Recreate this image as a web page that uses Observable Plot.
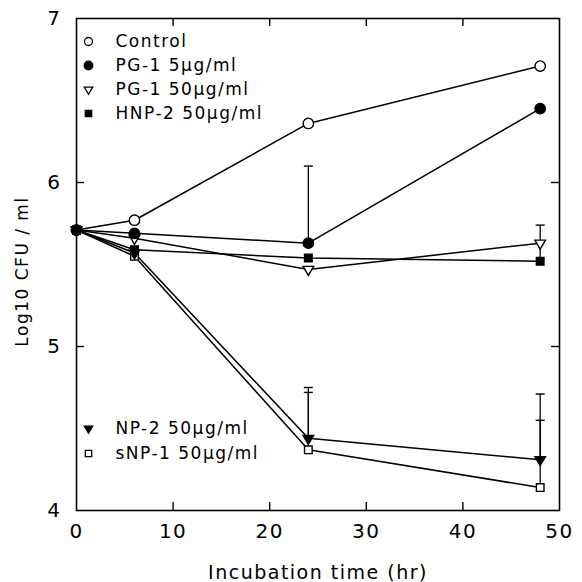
<!DOCTYPE html>
<html>
<head>
<meta charset="utf-8">
<script src="https://cdn.jsdelivr.net/npm/d3@7"></script>
<script src="https://cdn.jsdelivr.net/npm/@observablehq/plot@0.6"></script>
<style>
  html, body { margin: 0; padding: 0; background: #fff; }
  #chart svg { font-family: "DejaVu Sans", sans-serif; }
  #chart svg text { letter-spacing: 1.5px; }
</style>
</head>
<body>
<div id="chart"></div>
<script>
// ---- data ----
const hours = [0, 6, 24, 48];
const seriesNames = ["Control", "PG-1 5μg/ml", "PG-1 50μg/ml", "HNP-2 50μg/ml", "NP-2 50μg/ml", "sNP-1 50μg/ml"];
const control = [5.71, 5.77, 6.36, 6.71];
const pg1_5   = [5.71, 5.69, 5.63, 6.45];
const pg1_50  = [5.71, 5.66, 5.47, 5.63];
const hnp2_50 = [5.71, 5.59, 5.54, 5.52];
const np2_50  = [5.71, 5.57, 4.44, 4.31];
const snp1_50 = [5.71, 5.55, 4.37, 4.14];
// error bars
const errSeries = ["PG-1 5μg/ml", "PG-1 50μg/ml", "NP-2 50μg/ml", "sNP-1 50μg/ml", "NP-2 50μg/ml", "sNP-1 50μg/ml"];
const errHours  = [24, 48, 24, 24, 48, 48];
const errLow    = [5.63, 5.52, 4.44, 4.37, 4.31, 4.14];
const errHigh   = [6.10, 5.74, 4.75, 4.72, 4.71, 4.55];
// axes
const xTicks = [0, 10, 20, 30, 40, 50];
const yTicks = [4, 5, 6, 7];
const xLabel = "Incubation time (hr)";
const yLabel = "Log10 CFU / ml";

// ---- build tables ----
const values = [control, pg1_5, pg1_50, hnp2_50, np2_50, snp1_50];
const rows = seriesNames.flatMap((s, k) => hours.map((h, i) => ({series: s, hour: h, value: values[k][i]})));
const errs = errSeries.map((s, i) => ({series: s, hour: errHours[i], lo: errLow[i], hi: errHigh[i]}));

// ---- styles ----
const downTri = {draw(ctx, size) {
  const w = Math.sqrt(size) * 1.2, h = w * 0.85;
  ctx.moveTo(-w / 2, -h / 3); ctx.lineTo(w / 2, -h / 3); ctx.lineTo(0, 2 * h / 3); ctx.closePath();
}};
const capSym = {draw(ctx) { ctx.moveTo(-4.5, 0); ctx.lineTo(4.5, 0); }};
const style = {
  "Control":        {symbol: "circle", fill: "white", r: 5.2, lr: 4},
  "PG-1 5μg/ml":    {symbol: "circle", fill: "black", r: 5.2, lr: 4.3},
  "PG-1 50μg/ml":   {symbol: downTri, fill: "white", r: 5, lr: 4},
  "HNP-2 50μg/ml":  {symbol: "square", fill: "black", r: 4.3, lr: 3.6},
  "NP-2 50μg/ml":   {symbol: downTri, fill: "black", r: 5, lr: 4},
  "sNP-1 50μg/ml":  {symbol: "square", fill: "white", r: 4.3, lr: 3.6}
};
const drawOrder = ["sNP-1 50μg/ml", "NP-2 50μg/ml", "PG-1 50μg/ml", "HNP-2 50μg/ml", "Control", "PG-1 5μg/ml"];
const legendTop = seriesNames.slice(0, 4);
const legendBottom = seriesNames.slice(4);

const W = 582, H = 582, mL = 76, mR = 23, mT = 18, mB = 72;
const innerW = W - mL - mR, innerH = H - mT - mB, tk = 8;
const fontTxt = {fontSize: 17, fill: "black"};

const legendMarks = [];
legendTop.forEach((s, i) => {
  const st = style[s];
  legendMarks.push(Plot.dot([s], {frameAnchor: "top-left", dx: 12, dy: 23 + 24 * i, symbol: st.symbol, r: st.lr, fill: st.fill, stroke: "black", strokeWidth: 1.3}));
  legendMarks.push(Plot.text([s], {frameAnchor: "top-left", dx: 39, dy: 23 + 24 * i, text: d => d, textAnchor: "start", lineAnchor: "middle", ...fontTxt}));
});
legendBottom.forEach((s, i) => {
  const st = style[s];
  legendMarks.push(Plot.dot([s], {frameAnchor: "top-left", dx: 12, dy: 410 + 25 * i, symbol: st.symbol, r: st.lr, fill: st.fill, stroke: "black", strokeWidth: 1.3}));
  legendMarks.push(Plot.text([s], {frameAnchor: "top-left", dx: 39, dy: 410 + 25 * i, text: d => d, textAnchor: "start", lineAnchor: "middle", ...fontTxt}));
});

const chart = Plot.plot({
  width: W, height: H,
  marginLeft: mL, marginRight: mR, marginTop: mT, marginBottom: mB,
  x: {domain: [0, 50]},
  y: {domain: [4, 7]},
  style: {fontFamily: "DejaVu Sans, sans-serif", background: "white", color: "black"},
  marks: [
    Plot.frame({stroke: "black", strokeWidth: 1.6}),
    // inward ticks
    Plot.ruleX(xTicks.slice(1, -1), {x: d => d, insetTop: innerH - tk, stroke: "black", strokeWidth: 1.4}),
    Plot.ruleX(xTicks.slice(1, -1), {x: d => d, insetBottom: innerH - tk, stroke: "black", strokeWidth: 1.4}),
    Plot.ruleY(yTicks.slice(1, -1), {y: d => d, insetRight: innerW - tk, stroke: "black", strokeWidth: 1.4}),
    Plot.ruleY(yTicks.slice(1, -1), {y: d => d, insetLeft: innerW - tk, stroke: "black", strokeWidth: 1.4}),
    Plot.axisX({ticks: xTicks, tickSize: 0, tickPadding: 13, fontSize: 20, label: null, tickFormat: d => String(d)}),
    Plot.axisY({ticks: yTicks, tickSize: 0, tickPadding: 15, fontSize: 20, label: null, tickFormat: d => String(d)}),
    Plot.text([xLabel], {frameAnchor: "bottom", dy: 62, text: d => d, fontSize: 19, textAnchor: "middle", lineAnchor: "middle", fill: "black"}),
    Plot.text([yLabel], {frameAnchor: "left", dx: -54, dy: 7, rotate: -90, text: d => d, fontSize: 17, textAnchor: "middle", lineAnchor: "middle", fill: "black"}),
    // data lines
    Plot.line(rows, {x: "hour", y: "value", z: "series", stroke: "black", strokeWidth: 1.5}),
    // error bars
    Plot.ruleX(errs, {x: "hour", y1: "lo", y2: "hi", stroke: "black", strokeWidth: 1.3}),
    Plot.dot(errs, {x: "hour", y: "hi", symbol: capSym, stroke: "black", strokeWidth: 1.4, fill: "none"}),
    // markers
    ...drawOrder.map(s => Plot.dot(rows.filter(d => d.series === s), {
      x: "hour", y: "value", symbol: style[s].symbol, r: style[s].r, fill: style[s].fill, stroke: "black", strokeWidth: 1.4
    })),
    ...legendMarks
  ]
});
document.getElementById("chart").appendChild(chart);
</script>
</body>
</html>
